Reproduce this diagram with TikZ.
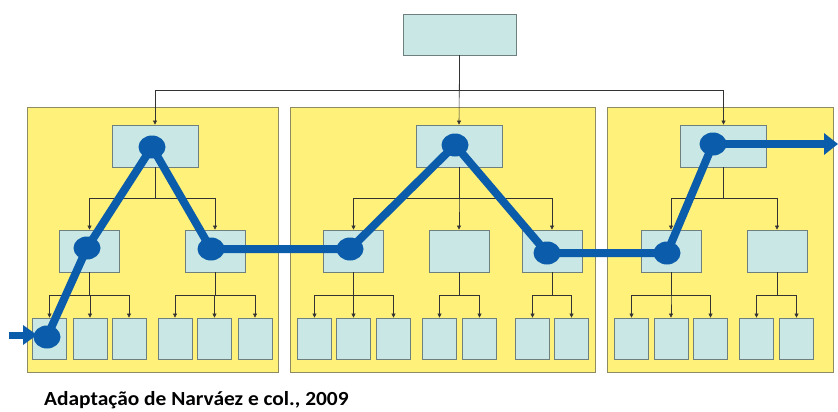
\documentclass[tikz,border=0pt]{standalone}
\usepackage{fontspec}
\setmainfont{Carlito}
\usetikzlibrary{arrows.meta,shapes.geometric}
\definecolor{panely}{HTML}{FFF17A}
\definecolor{panelb}{HTML}{8E8B62}
\definecolor{boxf}{HTML}{C9E8E5}
\definecolor{boxb}{HTML}{6F7F7E}
\definecolor{pathblue}{HTML}{0B5CAB}
\begin{document}
\begin{tikzpicture}[x=1pt,y=-1pt,
  panel/.style={draw=panelb, fill=panely, line width=1pt, inner sep=0pt, minimum height=265pt},
  bx/.style={draw=boxb, fill=boxf, line width=0.8pt, inner sep=0pt},
  lvl1/.style={bx, minimum width=86pt, minimum height=42pt},
  lvl2/.style={bx, minimum width=60pt, minimum height=42pt},
  lvl3/.style={bx, minimum width=34pt, minimum height=41pt},
  arr/.style={-{Triangle[length=4pt,width=4pt]}, line width=0.6pt, draw=black!80},
  bluepath/.style={draw=pathblue, line width=8pt, line join=round},
  dot/.style={ellipse, fill=pathblue, minimum width=27pt, minimum height=23pt, inner sep=0pt}]
\useasboundingbox (0,0) rectangle (838,412);
% panels
\node[panel, minimum width=251pt] (P1) at (152.5,239.5) {};
\node[panel, minimum width=305pt] (P2) at (442.5,239.5) {};
\node[panel, minimum width=226pt] (P3) at (720,239.5) {};
% top
\node[bx, minimum width=113pt, minimum height=41pt] (T) at (459.5,34.5) {};
% level 1
\node[lvl1] (A1) at (155,146) {};
\node[lvl1] (B1) at (459,146) {};
\node[lvl1] (C1) at (723.5,146) {};
% level 2
\node[lvl2] (A2a) at (89.5,251) {};
\node[lvl2] (A2b) at (215,251) {};
\node[lvl2] (B2a) at (353.5,251) {};
\node[lvl2] (B2b) at (459,251) {};
\node[lvl2] (B2c) at (552,251) {};
\node[lvl2] (C2a) at (671,251) {};
\node[lvl2] (C2b) at (777,251) {};
% level 3
\foreach \n/\x in {a1/49.5,a2/90,a3/129,a4/175,a5/214.5,a6/255,
                   b1/314.5,b2/353.5,b3/393.5,b4/439.5,b5/479.5,b6/532.5,b7/571.5,
                   c1/631.5,c2/671,c3/710.5,c4/756.5,c5/796.5}
  \node[lvl3] (\n) at (\x,338.5) {};
% connectors from top
\draw[line width=1pt, draw=black!45] (A1.north |- 0,90) -- (C1.north |- 0,90);
\draw[arr] (T.south) -- (B1.north);
\draw[arr] (T.south) -- ++(0,35) -| (A1.north);
\draw[arr] (T.south) -- ++(0,35) -| (C1.north);
% level 1 -> level 2
\foreach \c in {A2a,A2b} \draw[arr] (A1.south) -- ++(0,31) -| (\c.north);
\foreach \c in {B2a,B2b,B2c} \draw[arr] (B1.south) -- ++(0,31) -| (\c.north);
\foreach \c in {C2a,C2b} \draw[arr] (C1.south) -- ++(0,31) -| (\c.north);
% level 2 -> level 3
\foreach \c in {a1,a2,a3} \draw[arr] (A2a.south) -- ++(0,23) -| (\c.north);
\foreach \c in {a4,a5,a6} \draw[arr] (A2b.south) -- ++(0,23) -| (\c.north);
\foreach \c in {b1,b2,b3} \draw[arr] (B2a.south) -- ++(0,23) -| (\c.north);
\foreach \c in {b4,b5} \draw[arr] (B2b.south) -- ++(0,23) -| (\c.north);
\foreach \c in {b6,b7} \draw[arr] (B2c.south) -- ++(0,23) -| (\c.north);
\foreach \c in {c1,c2,c3} \draw[arr] (C2a.south) -- ++(0,23) -| (\c.north);
\foreach \c in {c4,c5} \draw[arr] (C2b.south) -- ++(0,23) -| (\c.north);
% blue path
\foreach \n/\x/\y in {d1/47/337,d2/87/248,d3/152/147,d4/211/249,d5/350/249,
                      d6/455/145,d7/547/253,d8/667/253,d9/713/144}
  \node[dot] (\n) at (\x,\y) {};
\coordinate (s0) at (9,335);
\coordinate (s1) at (37,335);
\coordinate (e0) at (838,144);
\draw[bluepath, line width=7pt, -{Triangle[length=14pt,width=19pt]}] (s0) -- (s1);
\draw[bluepath] (d1.center) -- (d2.center) -- (d3.center) -- (d4.center) -- (d5.center)
  -- (d6.center) -- (d7.center) -- (d8.center) -- (d9.center);
\draw[bluepath, -{Triangle[length=14pt,width=21pt]}] (d9.center) -- (e0);
% caption
\node[anchor=base west, inner sep=0pt, xscale=1.07, font=\bfseries\fontsize{20}{24}\selectfont] (cap) at (44,405) {Adaptação de Narváez e col., 2009};
\end{tikzpicture}
\end{document}
